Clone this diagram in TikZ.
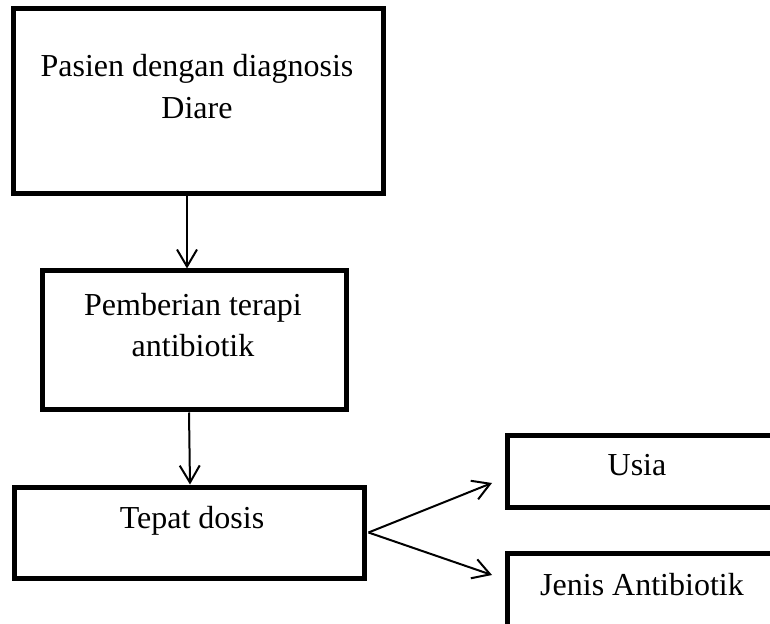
\documentclass[tikz,border=0pt]{standalone}
\usepackage{fontspec}
\setmainfont{Liberation Serif}
\usetikzlibrary{arrows.meta}

\begin{document}
\begin{tikzpicture}[x=0.5pt,y=-0.5pt,
	box/.style={draw,line width=2.5pt,inner sep=0pt},
	txt/.style={inner sep=0pt,align=center,font=\fontsize{16pt}{20.75pt}\selectfont},
	arr/.style={line width=1pt,-{Straight Barb[length=8.5pt,width=10pt,line width=1pt]}}]

\useasboundingbox (0,0) rectangle (770,624);
\clip (0,0) rectangle (770,624);

\node[box,minimum width=185pt,minimum height=92.5pt] (pasien) at (198,101.5) {};
\node[txt] (pasientxt) at (197,86.6) {Pasien dengan diagnosis\\Diare};

\node[box,minimum width=152pt,minimum height=69.5pt] (pemberian) at (194,340.5) {};
\node[txt] (pemberiantxt) at (193,325) {Pemberian terapi\\antibiotik};

\node[box,minimum width=175pt,minimum height=45.5pt] (tepat) at (189,532.5) {};
\node[txt,anchor=base] (tepattxt) at (192,528) {Tepat dosis};

\node[box,minimum width=133pt,minimum height=35.5pt] (usia) at (640,471.5) {};
\node[txt,anchor=base] (usiatxt) at (637,475) {Usia};

\node[box,minimum width=133pt,minimum height=38.5pt] (jenis) at (640,591.5) {};
\node[txt,anchor=base] (jenistxt) at (642,595) {Jenis Antibiotik};

\coordinate (usiaend) at (492,483);
\coordinate (jenisend) at (492,575);

\draw[arr] ([xshift=-5.5pt]pasien.south) -- ([xshift=-3.5pt]pemberian.north);
\draw[arr] ([xshift=-2.5pt]pemberian.south) -- ([xshift=0.5pt]tepat.north);
\draw[arr] ([xshift=1pt]tepat.east) -- (usiaend);
\draw[arr] ([xshift=1pt]tepat.east) -- (jenisend);
\end{tikzpicture}
\end{document}
